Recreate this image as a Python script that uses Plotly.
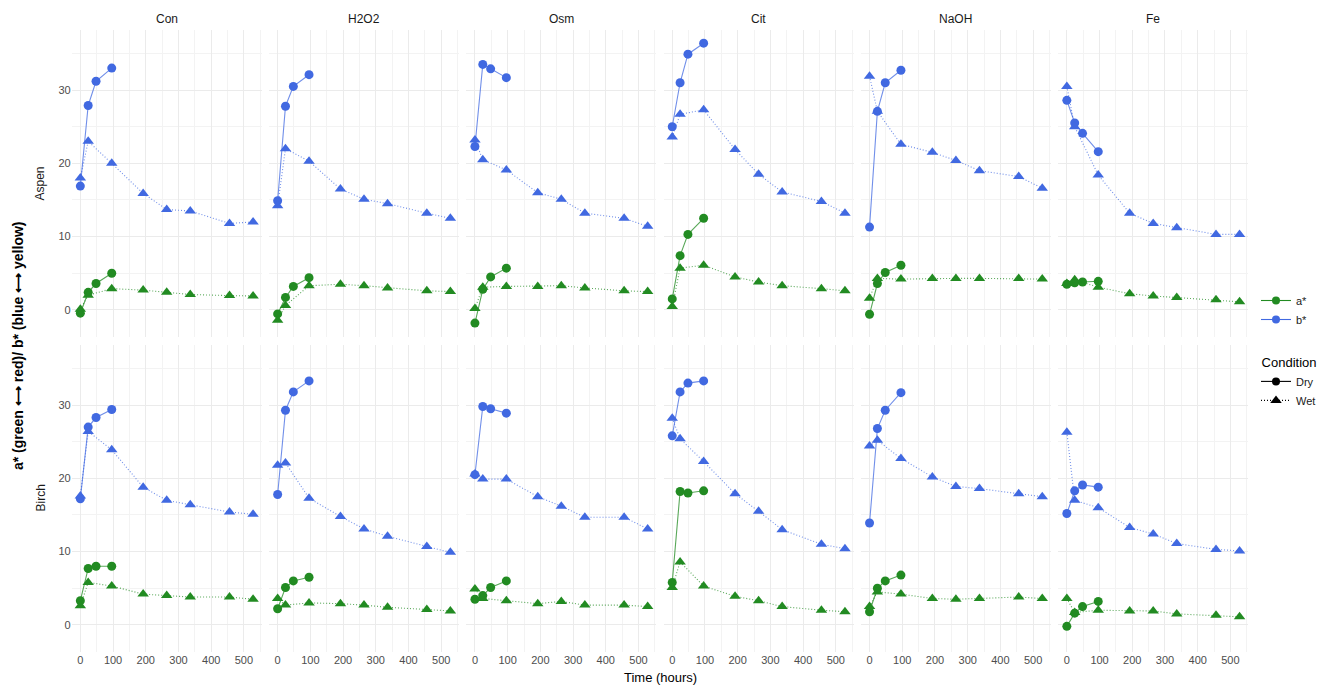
import plotly.graph_objects as go

treatments = ["Con", "H2O2", "Osm", "Cit", "NaOH", "Fe"]
species = ["Aspen", "Birch"]
dry_times = [0, 24, 48, 96]
wet_times = [0, 24, 96, 192, 264, 336, 456, 528]
x_ticks = [0, 100, 200, 300, 400, 500]
y_ticks = [0, 10, 20, 30]

aspen_dry_a = {
    "Con": [-0.45, 2.4, 3.6, 5.0],
    "H2O2": [-0.55, 1.7, 3.2, 4.4],
    "Osm": [-1.8, 2.8, 4.5, 5.7],
    "Cit": [1.5, 7.4, 10.3, 12.5],
    "NaOH": [-0.6, 3.6, 5.1, 6.1],
    "Fe": [3.5, 3.7, 3.8, 3.9],
}
aspen_dry_b = {
    "Con": [16.9, 27.9, 31.2, 33.0],
    "H2O2": [14.9, 27.8, 30.5, 32.1],
    "Osm": [22.3, 33.5, 32.9, 31.7],
    "Cit": [25.0, 31.0, 34.9, 36.4],
    "NaOH": [11.3, 27.1, 31.0, 32.7],
    "Fe": [28.6, 25.5, 24.1, 21.6],
}
aspen_wet_a = {
    "Con": [0.1, 2.0, 2.9, 2.7, 2.4, 2.1, 1.95, 1.9],
    "H2O2": [-1.4, 0.6, 3.3, 3.5, 3.3, 3.0, 2.6, 2.5],
    "Osm": [0.2, 3.1, 3.2, 3.2, 3.3, 3.0, 2.6, 2.5],
    "Cit": [0.45, 5.7, 6.1, 4.5, 3.8, 3.3, 2.9, 2.6],
    "NaOH": [1.6, 4.3, 4.2, 4.3, 4.3, 4.3, 4.3, 4.2],
    "Fe": [3.6, 4.1, 3.1, 2.2, 1.9, 1.7, 1.4, 1.1],
}
aspen_wet_b = {
    "Con": [18.0, 23.0, 20.0, 15.9, 13.7, 13.5, 11.8, 12.0],
    "H2O2": [14.2, 22.0, 20.3, 16.5, 15.1, 14.5, 13.2, 12.5],
    "Osm": [23.2, 20.5, 19.1, 16.0, 15.1, 13.2, 12.5, 11.4],
    "Cit": [23.6, 26.7, 27.3, 21.9, 18.5, 16.1, 14.8, 13.2],
    "NaOH": [31.9, 27.1, 22.6, 21.5, 20.4, 19.0, 18.2, 16.6],
    "Fe": [30.5, 25.0, 18.4, 13.2, 11.8, 11.2, 10.3, 10.3],
}
birch_dry_a = {
    "Con": [3.3, 7.7, 8.0, 8.0],
    "H2O2": [2.2, 5.1, 6.0, 6.5],
    "Osm": [3.5, 4.0, 5.1, 6.0],
    "Cit": [5.8, 18.2, 18.0, 18.3],
    "NaOH": [1.8, 5.0, 6.0, 6.8],
    "Fe": [-0.2, 1.6, 2.5, 3.2],
}
birch_dry_b = {
    "Con": [17.2, 27.0, 28.3, 29.4],
    "H2O2": [17.8, 29.3, 31.8, 33.3],
    "Osm": [20.5, 29.8, 29.5, 28.9],
    "Cit": [25.8, 31.8, 33.0, 33.3],
    "NaOH": [13.9, 26.8, 29.3, 31.7],
    "Fe": [15.2, 18.3, 19.1, 18.8],
}
birch_wet_a = {
    "Con": [2.6, 5.8, 5.3, 4.2, 4.0, 3.8, 3.8, 3.5],
    "H2O2": [3.6, 2.7, 3.0, 2.9, 2.7, 2.4, 2.1, 1.9],
    "Osm": [4.9, 3.6, 3.3, 2.9, 3.2, 2.7, 2.7, 2.5],
    "Cit": [5.1, 8.6, 5.3, 3.9, 3.3, 2.5, 2.0, 1.8],
    "NaOH": [2.5, 4.5, 4.2, 3.6, 3.5, 3.6, 3.8, 3.6],
    "Fe": [3.6, 1.7, 2.0, 1.9, 1.9, 1.5, 1.3, 1.1],
}
birch_wet_b = {
    "Con": [17.6, 26.4, 23.9, 18.8, 17.0, 16.4, 15.4, 15.1],
    "H2O2": [21.8, 22.1, 17.3, 14.8, 13.1, 12.1, 10.7, 9.9],
    "Osm": [20.6, 19.9, 19.9, 17.5, 16.2, 14.7, 14.7, 13.1],
    "Cit": [28.2, 25.4, 22.3, 17.9, 15.5, 13.0, 11.0, 10.4],
    "NaOH": [24.4, 25.2, 22.7, 20.2, 18.9, 18.6, 17.9, 17.5],
    "Fe": [26.3, 17.0, 16.0, 13.3, 12.4, 11.1, 10.3, 10.1],
}

GREEN = "#228B22"
BLUE = "#4169E1"
GREEN_LINE = "rgba(34,139,34,0.75)"
BLUE_LINE = "rgba(65,105,225,0.75)"
FONT = "Liberation Sans, Arial, sans-serif"
DOTTED = "1px,2px"

# page body has an 8px margin, so the figure is drawn 8px right/down
OFF = 8
FW, FH = 1328 - OFF, 687 - OFF


def px_x(p):
    return (p - OFF) / FW


def px_y(p):
    return 1 - (p - OFF) / FH


panel_left0 = 71.7
panel_w = 190.0
pitch = 197.3
row_px = [(30.0, 337.0), (345.0, 652.0)]

series = {
    "Aspen": [(aspen_dry_a, "Dry", GREEN, GREEN_LINE), (aspen_wet_a, "Wet", GREEN, GREEN_LINE),
              (aspen_dry_b, "Dry", BLUE, BLUE_LINE), (aspen_wet_b, "Wet", BLUE, BLUE_LINE)],
    "Birch": [(birch_dry_a, "Dry", GREEN, GREEN_LINE), (birch_wet_a, "Wet", GREEN, GREEN_LINE),
              (birch_dry_b, "Dry", BLUE, BLUE_LINE), (birch_wet_b, "Wet", BLUE, BLUE_LINE)],
}

fig = go.Figure()
layout = {}
annotations = []

idx = 0
for r, sp in enumerate(species):
    y0px, y1px = row_px[r]
    ydom = [px_y(y1px), px_y(y0px)]
    for c, tr in enumerate(treatments):
        idx += 1
        x0px = panel_left0 + pitch * c
        xdom = [px_x(x0px), px_x(x0px + panel_w)]
        xname = "xaxis" if idx == 1 else f"xaxis{idx}"
        yname = "yaxis" if idx == 1 else f"yaxis{idx}"
        xref = "x" if idx == 1 else f"x{idx}"
        yref = "y" if idx == 1 else f"y{idx}"
        layout[xname] = dict(
            domain=xdom, anchor=yref, range=[-26.4, 554.4],
            tickvals=x_ticks, showticklabels=(r == 1),
            showgrid=True, gridcolor="#EBEBEB", gridwidth=1,
            minor=dict(tickvals=[50, 150, 250, 350, 450, 550], showgrid=True,
                       gridcolor="#F3F3F3", gridwidth=1),
            zeroline=False, showline=False, ticks="",
            tickfont=dict(family=FONT, size=11, color="#4D4D4D"),
        )
        layout[yname] = dict(
            domain=ydom, anchor=xref, range=[-3.7, 38.2],
            tickvals=y_ticks, showticklabels=(c == 0),
            showgrid=True, gridcolor="#EBEBEB", gridwidth=1,
            minor=dict(tickvals=[-5, 5, 15, 25, 35], showgrid=True,
                       gridcolor="#F3F3F3", gridwidth=1),
            zeroline=False, showline=False, ticks="",
            tickfont=dict(family=FONT, size=11, color="#4D4D4D"),
        )
        for data, cond, mcol, lcol in series[sp]:
            times = dry_times if cond == "Dry" else wet_times
            fig.add_trace(go.Scatter(
                x=times, y=data[tr], xaxis=xref, yaxis=yref,
                mode="lines+markers", showlegend=False, hoverinfo="skip",
                line=dict(color=lcol, width=1.1, dash="solid" if cond == "Dry" else DOTTED),
                marker=dict(symbol="circle" if cond == "Dry" else "triangle-up",
                            size=9 if cond == "Dry" else 10, color=mcol, line=dict(width=0)),
            ))
        if r == 0:
            annotations.append(dict(
                text=tr, x=px_x(x0px + panel_w / 2), y=px_y(19), xref="paper", yref="paper",
                showarrow=False, font=dict(family=FONT, size=12, color="#1A1A1A"),
                xanchor="center", yanchor="middle"))
    annotations.append(dict(
        text=sp, x=px_x(40), y=px_y((y0px + y1px) / 2), xref="paper", yref="paper",
        showarrow=False, textangle=-90, font=dict(family=FONT, size=12, color="#1A1A1A"),
        xanchor="center", yanchor="middle"))

annotations.append(dict(
    text="<b>a* (green ⟷ red)/ b* (blue ⟷ yellow)</b>", x=px_x(18), y=px_y(346),
    xref="paper", yref="paper", showarrow=False, textangle=-90,
    font=dict(family=FONT, size=14, color="#000000"), xanchor="center", yanchor="middle"))
annotations.append(dict(
    text="Time (hours)", x=px_x(660), y=px_y(677), xref="paper", yref="paper",
    showarrow=False, font=dict(family=FONT, size=13, color="#000000"),
    xanchor="center", yanchor="middle"))

# legend entries
fig.add_trace(go.Scatter(x=[None], y=[None], mode="lines+markers", name="a*", legend="legend",
                         line=dict(color=GREEN, width=1.1), marker=dict(color=GREEN, size=8)))
fig.add_trace(go.Scatter(x=[None], y=[None], mode="lines+markers", name="b*", legend="legend",
                         line=dict(color=BLUE, width=1.1), marker=dict(color=BLUE, size=8)))
fig.add_trace(go.Scatter(x=[None], y=[None], mode="lines+markers", name="Dry", legend="legend2",
                         line=dict(color="black", width=1.1, dash="solid"),
                         marker=dict(color="black", size=8, symbol="circle")))
fig.add_trace(go.Scatter(x=[None], y=[None], mode="lines+markers", name="Wet", legend="legend2",
                         line=dict(color="black", width=1.1, dash=DOTTED),
                         marker=dict(color="black", size=10, symbol="triangle-up")))

fig.update_layout(
    width=FW, height=FH, autosize=False,
    margin=dict(l=0, r=0, t=0, b=0, autoexpand=False),
    paper_bgcolor="white", plot_bgcolor="white",
    font=dict(family=FONT, size=11, color="#1A1A1A"),
    annotations=annotations,
    legend=dict(x=px_x(1256), y=px_y(286), xanchor="left", yanchor="top",
                font=dict(family=FONT, size=11, color="#1A1A1A"),
                itemwidth=30, tracegroupgap=0, bgcolor="rgba(0,0,0,0)"),
    legend2=dict(x=px_x(1256), y=px_y(350), xanchor="left", yanchor="top",
                 title=dict(text="\u00a0Condition",
                            font=dict(family=FONT, size=13, color="#000000")),
                 font=dict(family=FONT, size=11, color="#1A1A1A"),
                 itemwidth=30, tracegroupgap=0, bgcolor="rgba(0,0,0,0)"),
    **layout,
)

fig.write_html("out.html")
